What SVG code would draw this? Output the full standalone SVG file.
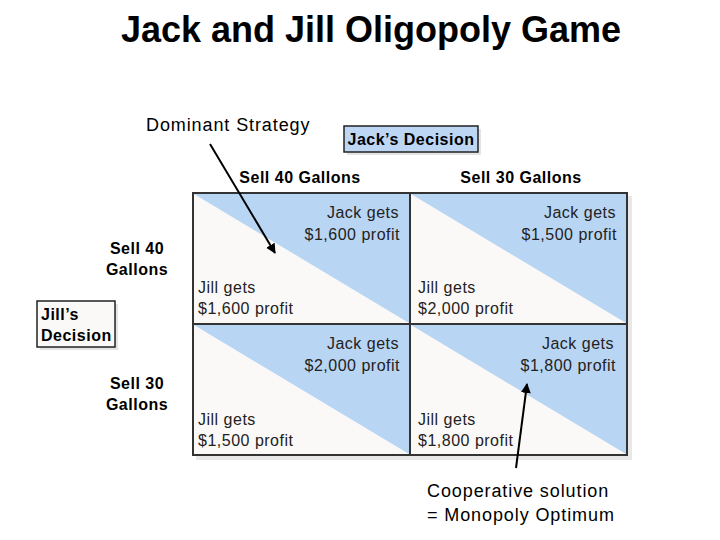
<svg xmlns="http://www.w3.org/2000/svg" width="720" height="540" viewBox="0 0 720 540">
<style>
text{font-family:"Liberation Sans",Arial,sans-serif;fill:#000}
.t{font-size:36px;font-weight:bold}
.lbl{font-size:18px;letter-spacing:0.9px}
.h{font-size:16px;font-weight:bold;letter-spacing:0.5px}
.c{font-size:16px;fill:#222;letter-spacing:0.5px}
.r{text-anchor:end}
.m{text-anchor:middle}
.cell{fill:#fbf9f7}
.tri{fill:#b9d5f4}
.grid{fill:none;stroke:#333;stroke-width:2}
.conn{stroke:#000;stroke-width:2;fill:none}
</style>
<defs>
<marker id="ah" viewBox="0 0 10 10" refX="9" refY="5" markerWidth="5" markerHeight="5" orient="auto">
<path d="M0,0 L10,5 L0,10 z" fill="#000"/>
</marker>
</defs>
<rect width="720" height="540" fill="#fff"/>
<text class="t m" x="371" y="42">Jack and Jill Oligopoly Game</text>

<g id="dominant"><text class="lbl" x="146" y="131">Dominant Strategy</text></g>
<g id="jack-decision">
<rect x="347" y="129" width="134" height="26" fill="#e4e4e4"/>
<rect x="344" y="126" width="134" height="26" fill="#bcd6f4" stroke="#222" stroke-width="1.5"/>
<text class="h m" x="411" y="145">Jack’s Decision</text>
</g>
<g id="col-40"><text class="h m" x="300" y="183">Sell 40 Gallons</text></g>
<g id="col-30"><text class="h m" x="521" y="183">Sell 30 Gallons</text></g>
<g id="row-40"><text class="h m" x="137" y="254">Sell 40</text><text class="h m" x="137" y="275">Gallons</text></g>
<g id="row-30"><text class="h m" x="137" y="389">Sell 30</text><text class="h m" x="137" y="410">Gallons</text></g>
<g id="jill-decision">
<rect x="40" y="304" width="78" height="46" fill="#e4e4e4"/>
<rect x="37" y="301" width="78" height="46" fill="#fbf9f7" stroke="#222" stroke-width="1.5"/>
<text class="h" x="41" y="320">Jill’s</text>
<text class="h" x="41" y="341">Decision</text>
</g>

<g id="matrix">
<rect x="196" y="196" width="436" height="264" fill="#e8e8e8"/>
<rect x="193" y="193" width="434" height="262" class="cell"/>
<polygon class="tri" points="194,194 409,194 409,323"/>
<polygon class="tri" points="411,194 626,194 626,323"/>
<polygon class="tri" points="194,325 409,325 409,454"/>
<polygon class="tri" points="411,325 626,325 626,454"/>
<rect x="193" y="193" width="434" height="262" class="grid"/>
<line x1="410" y1="193" x2="410" y2="455" class="grid"/>
<line x1="193" y1="324" x2="627" y2="324" class="grid"/>
</g>
<g id="cell-40-40">
<text class="c r" x="399" y="218">Jack gets</text><text class="c r" x="400" y="240">$1,600 profit</text>
<text class="c" x="198" y="293">Jill gets</text><text class="c" x="198" y="314">$1,600 profit</text>
</g>
<g id="cell-40-30">
<text class="c r" x="616" y="218">Jack gets</text><text class="c r" x="617" y="240">$1,500 profit</text>
<text class="c" x="418" y="293">Jill gets</text><text class="c" x="418" y="314">$2,000 profit</text>
</g>
<g id="cell-30-40">
<text class="c r" x="399" y="349">Jack gets</text><text class="c r" x="400" y="371">$2,000 profit</text>
<text class="c" x="198" y="425">Jill gets</text><text class="c" x="198" y="446">$1,500 profit</text>
</g>
<g id="cell-30-30">
<text class="c r" x="614" y="349">Jack gets</text><text class="c r" x="616" y="371">$1,800 profit</text>
<text class="c" x="418" y="425">Jill gets</text><text class="c" x="418" y="446">$1,800 profit</text>
</g>
<g id="coop"><text class="lbl" x="427" y="497">Cooperative solution</text><text class="lbl" x="427" y="521">= Monopoly Optimum</text></g>

<g id="connectors">
<line x1="210" y1="144" x2="275" y2="253" class="conn" marker-end="url(#ah)"/>
<line x1="516" y1="468" x2="527" y2="384" class="conn" marker-end="url(#ah)"/>
</g>
</svg>
